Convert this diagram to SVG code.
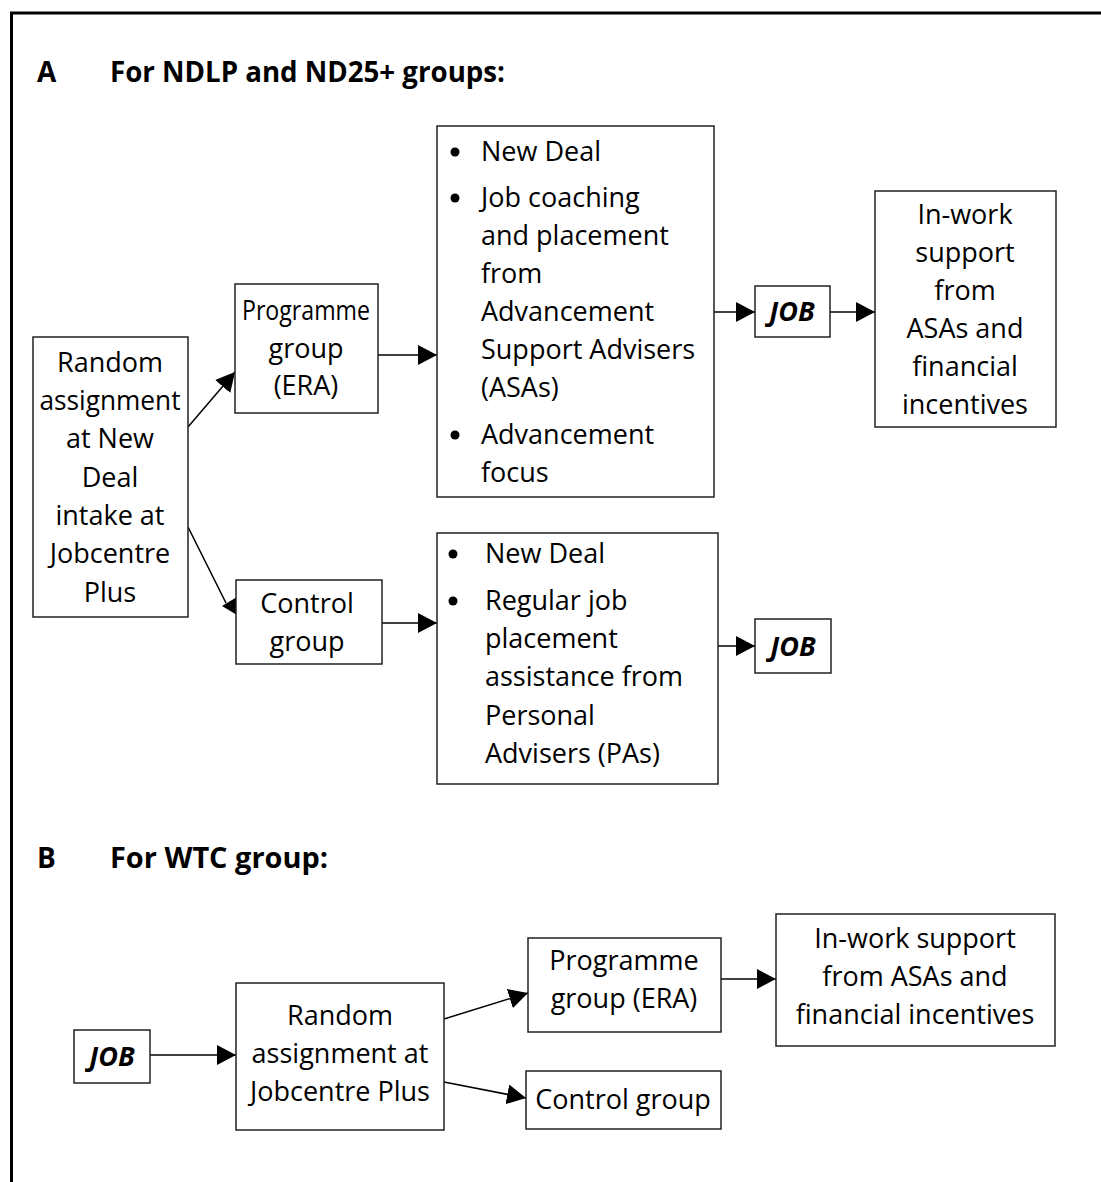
<svg xmlns="http://www.w3.org/2000/svg" width="1101" height="1182" viewBox="0 0 1101 1182">
<defs>
<marker id="ah" markerUnits="userSpaceOnUse" markerWidth="19" markerHeight="20" refX="19" refY="10" orient="auto">
<path d="M0,0 L19,10 L0,20 z" fill="#000"/>
</marker>
<style>
.box{fill:#fff;stroke:#222;stroke-width:1.5}
.t{font-family:"Open Sans","Noto Sans",sans-serif;font-size:27px;fill:#000}
.c{text-anchor:middle}
.h{font-family:"Open Sans","Noto Sans",sans-serif;font-size:28px;font-weight:bold;fill:#000}
.job{font-family:"Open Sans","Noto Sans",sans-serif;font-size:27px;font-weight:bold;font-style:italic;fill:#000;text-anchor:middle}
.ln{fill:none;stroke:#000;stroke-width:1.5}
.bul{fill:#000}
</style>
</defs>
<rect width="1101" height="1182" fill="#fff"/>
<path d="M11.5,1182 V13 H1101" fill="none" stroke="#000" stroke-width="3"/>

<g id="headings">
<text class="h" x="37" y="82">A</text>
<text class="h" x="110" y="82" textLength="395" lengthAdjust="spacingAndGlyphs">For NDLP and ND25+ groups:</text>
<text class="h" x="37" y="868">B</text>
<text class="h" x="110" y="868" textLength="218" lengthAdjust="spacingAndGlyphs">For WTC group:</text>
</g>

<g id="connectors">
<line class="ln" x1="188" y1="427" x2="235" y2="372" marker-end="url(#ah)"/>
<line class="ln" x1="188" y1="527" x2="226" y2="603"/>
<polygon points="222,606 237,597 237,615" fill="#000"/>
<line class="ln" x1="378" y1="355" x2="437" y2="355" marker-end="url(#ah)"/>
<line class="ln" x1="382" y1="623" x2="437" y2="623" marker-end="url(#ah)"/>
<line class="ln" x1="714" y1="312" x2="755" y2="312" marker-end="url(#ah)"/>
<line class="ln" x1="830" y1="312" x2="875" y2="312" marker-end="url(#ah)"/>
<line class="ln" x1="718" y1="646" x2="755" y2="646" marker-end="url(#ah)"/>
<line class="ln" x1="150" y1="1055" x2="236" y2="1055" marker-end="url(#ah)"/>
<line class="ln" x1="444" y1="1019" x2="528" y2="993" marker-end="url(#ah)"/>
<line class="ln" x1="444" y1="1082" x2="526" y2="1098" marker-end="url(#ah)"/>
<line class="ln" x1="721" y1="979" x2="776" y2="979" marker-end="url(#ah)"/>
</g>

<g id="a-random">
<rect class="box" x="33" y="337" width="155" height="280"/>
<text class="t c" x="110" y="372">Random</text>
<text class="t c" x="110" y="410" textLength="141" lengthAdjust="spacingAndGlyphs">assignment</text>
<text class="t c" x="110" y="448">at New</text>
<text class="t c" x="110" y="487">Deal</text>
<text class="t c" x="110" y="525">intake at</text>
<text class="t c" x="110" y="563">Jobcentre</text>
<text class="t c" x="110" y="602">Plus</text>
</g>

<g id="a-programme">
<rect class="box" x="235" y="284" width="143" height="129"/>
<text class="t c" x="306" y="320" textLength="128" lengthAdjust="spacingAndGlyphs">Programme</text>
<text class="t c" x="306" y="358">group</text>
<text class="t c" x="306" y="395">(ERA)</text>
</g>

<g id="a-control">
<rect class="box" x="236" y="580" width="146" height="84"/>
<text class="t c" x="307" y="613">Control</text>
<text class="t c" x="307" y="651">group</text>
</g>

<g id="a-era-services">
<rect class="box" x="437" y="126" width="277" height="371"/>
<circle class="bul" cx="455" cy="152" r="4.5"/>
<circle class="bul" cx="455" cy="198" r="4.5"/>
<circle class="bul" cx="455" cy="435" r="4.5"/>
<text class="t" x="481" y="161">New Deal</text>
<text class="t" x="481" y="207">Job coaching</text>
<text class="t" x="481" y="245">and placement</text>
<text class="t" x="481" y="283">from</text>
<text class="t" x="481" y="321">Advancement</text>
<text class="t" x="481" y="359">Support Advisers</text>
<text class="t" x="481" y="397">(ASAs)</text>
<text class="t" x="481" y="444">Advancement</text>
<text class="t" x="481" y="482">focus</text>
</g>

<g id="a-job1">
<rect class="box" x="755" y="286" width="75" height="51"/>
<text class="job" x="792" y="321">JOB</text>
</g>

<g id="a-inwork">
<rect class="box" x="875" y="191" width="181" height="236"/>
<text class="t c" x="965" y="224">In-work</text>
<text class="t c" x="965" y="262">support</text>
<text class="t c" x="965" y="300">from</text>
<text class="t c" x="965" y="338">ASAs and</text>
<text class="t c" x="965" y="376">financial</text>
<text class="t c" x="965" y="414">incentives</text>
</g>

<g id="a-control-services">
<rect class="box" x="437" y="533" width="281" height="251"/>
<circle class="bul" cx="453" cy="554" r="4.5"/>
<circle class="bul" cx="453" cy="601" r="4.5"/>
<text class="t" x="485" y="563">New Deal</text>
<text class="t" x="485" y="610">Regular job</text>
<text class="t" x="485" y="648">placement</text>
<text class="t" x="485" y="686">assistance from</text>
<text class="t" x="485" y="725">Personal</text>
<text class="t" x="485" y="763">Advisers (PAs)</text>
</g>

<g id="a-job2">
<rect class="box" x="755" y="619" width="76" height="54"/>
<text class="job" x="793" y="656">JOB</text>
</g>

<g id="b-job">
<rect class="box" x="74" y="1030" width="76" height="53"/>
<text class="job" x="112" y="1066">JOB</text>
</g>

<g id="b-random">
<rect class="box" x="236" y="983" width="208" height="147"/>
<text class="t c" x="340" y="1025">Random</text>
<text class="t c" x="340" y="1063">assignment at</text>
<text class="t c" x="340" y="1101">Jobcentre Plus</text>
</g>

<g id="b-programme">
<rect class="box" x="528" y="938" width="193" height="94"/>
<text class="t c" x="624" y="970">Programme</text>
<text class="t c" x="624" y="1008">group (ERA)</text>
</g>

<g id="b-inwork">
<rect class="box" x="776" y="914" width="279" height="132"/>
<text class="t c" x="915" y="948">In-work support</text>
<text class="t c" x="915" y="986">from ASAs and</text>
<text class="t c" x="915" y="1024">financial incentives</text>
</g>

<g id="b-control">
<rect class="box" x="526" y="1071" width="195" height="58"/>
<text class="t c" x="623" y="1109">Control group</text>
</g>
</svg>
